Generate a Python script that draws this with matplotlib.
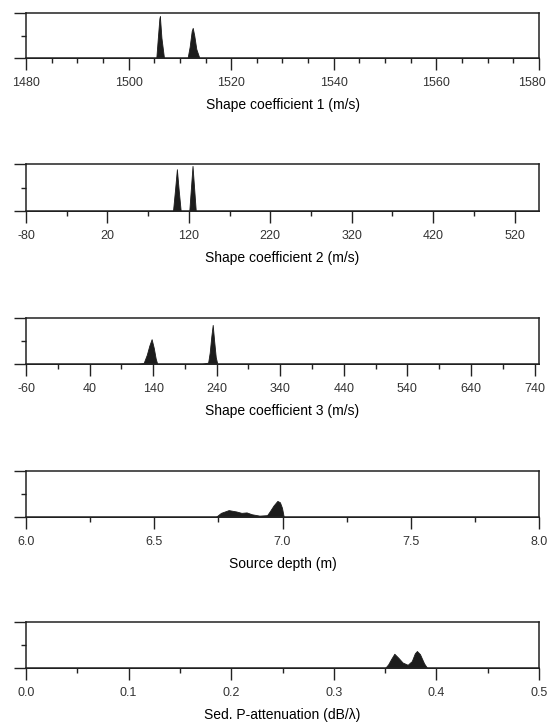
#importing some Python libraries
import numpy as np
import matplotlib
matplotlib.use('Agg')
import matplotlib.pyplot as plt
import matplotlib.transforms as mtransforms
from matplotlib.ticker import FixedLocator

plt.rcParams['font.family'] = ['Liberation Sans', 'DejaVu Sans']

#marginal distributions (normalized to max of frame = 1)
coef1_x = [1480, 1505.4, 1505.7, 1506.0, 1506.1, 1506.4, 1506.9, 1511.5, 1511.9, 1512.3, 1512.5, 1512.8, 1513.2, 1513.8, 1580]
coef1_y = [0, 0, 0.45, 0.88, 0.93, 0.45, 0, 0, 0.25, 0.6, 0.67, 0.5, 0.2, 0, 0]

coef2_x = [-80, 100.5, 103, 105.3, 107.5, 110, 120.5, 122.5, 124.5, 126.5, 128.5, 550]
coef2_y = [0, 0, 0.45, 0.89, 0.45, 0, 0, 0.48, 0.96, 0.48, 0, 0]

coef3_x = [-60, 115, 125, 130, 134, 137.6, 141, 144, 146.5, 216, 226.5, 229, 231.5, 233.7, 236, 238.5, 241, 747]
coef3_y = [0, 0, 0.02, 0.2, 0.4, 0.54, 0.35, 0.12, 0, 0, 0.03, 0.25, 0.6, 0.85, 0.5, 0.15, 0, 0]

depth_x = [6.0, 6.74, 6.76, 6.79, 6.82, 6.84, 6.86, 6.88, 6.91, 6.94, 6.95, 6.965, 6.98, 6.99, 6.998, 7.005, 8.0]
depth_y = [0, 0, 0.09, 0.15, 0.12, 0.09, 0.1, 0.06, 0.03, 0.04, 0.12, 0.25, 0.35, 0.32, 0.2, 0, 0]

atten_x = [0.0, 0.35, 0.353, 0.356, 0.359, 0.363, 0.367, 0.372, 0.376, 0.379, 0.381, 0.384, 0.388, 0.391, 0.5]
atten_y = [0, 0, 0.08, 0.2, 0.31, 0.22, 0.12, 0.07, 0.15, 0.32, 0.37, 0.3, 0.1, 0, 0]

labels = ['Shape coefficient 1 (m/s)', 'Shape coefficient 2 (m/s)', 'Shape coefficient 3 (m/s)',
          'Source depth (m)', 'Sed. P-attenuation (dB/\u03bb)']
xlims = [(1480, 1580), (-80, 550), (-60, 747), (6.0, 8.0), (0.0, 0.5)]
major_ticks = [np.arange(1480, 1581, 20), np.arange(-80, 521, 100), np.arange(-60, 741, 100),
               np.arange(6.0, 8.01, 0.5), np.arange(0.0, 0.501, 0.1)]
minor_ticks = [np.arange(1480, 1581, 5), np.arange(-80, 550, 50), np.arange(-60, 747, 50),
               np.arange(6.0, 8.01, 0.25), np.arange(0.0, 0.501, 0.05)]
tick_fmt = ['{:.0f}', '{:.0f}', '{:.0f}', '{:.1f}', '{:.1f}']
data = [(coef1_x, coef1_y), (coef2_x, coef2_y), (coef3_x, coef3_y), (depth_x, depth_y), (atten_x, atten_y)]

#pixel positions of each frame (top, bottom) in a 550x723 figure
frames = [(13, 58), (164, 211), (318, 364), (471, 517), (622, 668)]
W, H = 550.0, 723.0

fig = plt.figure(figsize=(5.5, 7.23), dpi=100)

for i in range(5):
    top, bot = frames[i]
    ax = fig.add_axes([26 / W, 1 - bot / H, (539 - 26) / W, (bot - top) / H])
    x, y = data[i]
    ax.fill_between(x, 0, y, color='#1c1c1c', linewidth=0.6, edgecolor='#1c1c1c')
    ax.set_xlim(xlims[i])
    ax.set_ylim(0, 1)
    ax.xaxis.set_major_locator(FixedLocator(major_ticks[i]))
    ax.xaxis.set_minor_locator(FixedLocator(minor_ticks[i]))
    ax.set_xticklabels([tick_fmt[i].format(v) for v in major_ticks[i]])
    ax.yaxis.set_major_locator(FixedLocator([0, 1]))
    ax.yaxis.set_minor_locator(FixedLocator([0.5]))
    ax.set_yticklabels([])
    ax.tick_params(axis='both', which='major', direction='out', length=8.5, width=1.0, color='#222222')
    ax.tick_params(axis='both', which='minor', direction='out', length=3.5, width=1.0, color='#222222')
    ax.tick_params(axis='x', labelsize=9, labelcolor='#333333', pad=5.5)
    for s in ax.spines.values():
        s.set_linewidth(1.1)
        s.set_color('#222222')
    ax.set_xlabel(labels[i], fontsize=10, labelpad=6.5)
    # last label of the top panel runs past the page edge, nudge it in
    if i == 0:
        last = ax.get_xticklabels()[-1]
        last.set_transform(last.get_transform() + mtransforms.ScaledTranslation(-5 / 72, 0, fig.dpi_scale_trans))

fig.savefig('out.png', dpi=100)
